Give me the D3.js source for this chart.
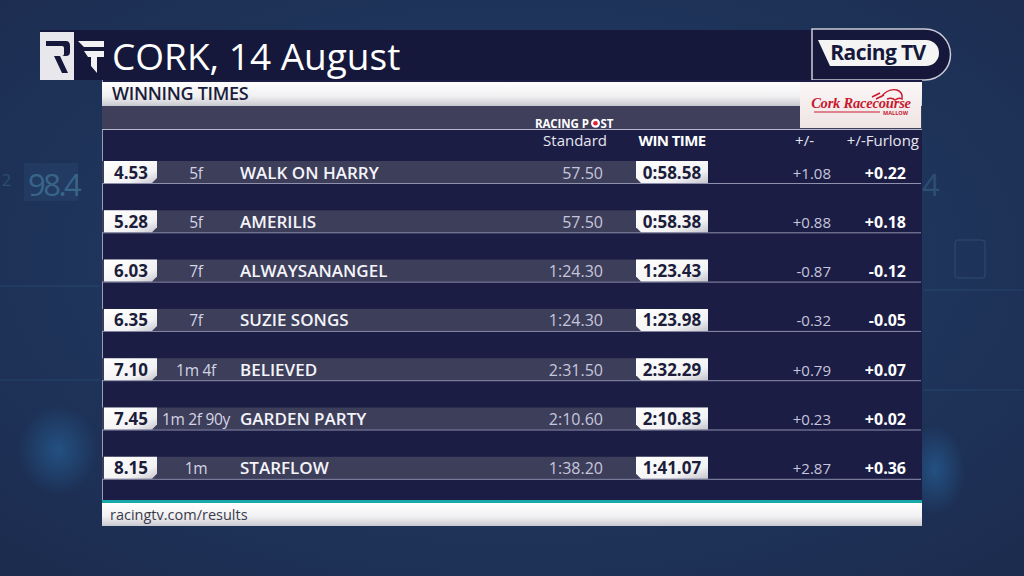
<!DOCTYPE html>
<html><head><meta charset="utf-8">
<script src="https://cdn.jsdelivr.net/npm/d3@7"></script>
<style>
html,body{margin:0;padding:0;background:#1e3156;overflow:hidden}
svg{display:block}
</style></head><body>
<script>
// ---- data ----
const offTimes   = ["4.53","5.28","6.03","6.35","7.10","7.45","8.15"];
const distances  = ["5f","5f","7f","7f","1m 4f","1m 2f 90y","1m"];
const horses     = ["WALK ON HARRY","AMERILIS","ALWAYSANANGEL","SUZIE SONGS","BELIEVED","GARDEN PARTY","STARFLOW"];
const standards  = ["57.50","57.50","1:24.30","1:24.30","2:31.50","2:10.60","1:38.20"];
const winTimes   = ["0:58.58","0:58.38","1:23.43","1:23.98","2:32.29","2:10.83","1:41.07"];
const diffs      = ["+1.08","+0.88","-0.87","-0.32","+0.79","+0.23","+2.87"];
const perFurlong = ["+0.22","+0.18","-0.12","-0.05","+0.07","+0.02","+0.36"];
const headers    = ["Standard","WIN TIME","+/-","+/-Furlong"];
const title = "CORK, 14 August";
const subtitle = "WINNING TIMES";
const footer = "racingtv.com/results";

const FONT='"Open Sans","Noto Sans",sans-serif';
const W=1024,H=576;
const svg=d3.select("body").append("svg").attr("width",W).attr("height",H).style("font-family",FONT);
const defs=svg.append("defs");

// background
const bg=defs.append("radialGradient").attr("id","bg").attr("cx","0.5").attr("cy","0.45").attr("r","0.75");
bg.append("stop").attr("offset","0").attr("stop-color","#24406a");
bg.append("stop").attr("offset","1").attr("stop-color","#1b2b4e");
svg.append("rect").attr("width",W).attr("height",H).attr("fill","url(#bg)");
const glow=defs.append("radialGradient").attr("id","glow");
glow.append("stop").attr("offset","0").attr("stop-color","#2a78b8").attr("stop-opacity",0.45);
glow.append("stop").attr("offset","1").attr("stop-color","#2a78b8").attr("stop-opacity",0);
svg.append("ellipse").attr("cx",58).attr("cy",450).attr("rx",40).attr("ry",45).attr("fill","url(#glow)");
svg.append("ellipse").attr("cx",935).attr("cy",470).attr("rx",30).attr("ry",45).attr("fill","url(#glow)");
svg.append("rect").attr("x",24).attr("y",163).attr("width",54).attr("height",38).attr("fill","#2a4a74").attr("opacity",0.35);
svg.append("text").attr("x",28).attr("y",196).attr("font-size",31).attr("fill","#4f8fb0").attr("opacity",0.5).attr("letter-spacing",-2.5).text("98.4");
svg.append("text").attr("x",2).attr("y",186).attr("font-size",16).attr("fill","#4f8fb0").attr("opacity",0.3).text("2");
svg.append("text").attr("x",922).attr("y",196).attr("font-size",31).attr("fill","#4f8fb0").attr("opacity",0.3).text("4");
[[0,286],[0,380],[923,290],[923,390]].forEach(([x,y])=>{
  svg.append("line").attr("x1",x).attr("x2",x+100).attr("y1",y).attr("y2",y).attr("stroke","#3d6a95").attr("opacity",0.3);
});
svg.append("rect").attr("x",955).attr("y",240).attr("width",30).attr("height",38).attr("rx",3).attr("fill","none").attr("stroke","#4f7fa8").attr("opacity",0.3);

// title bar
svg.append("rect").attr("x",40).attr("y",30).attr("width",800).attr("height",50).attr("fill","#16183b");
// RF logo
svg.append("rect").attr("x",40).attr("y",32).attr("width",34).attr("height",48).attr("fill","#e8e8ec");
svg.append("path").attr("d","M46 41 H66 Q70 41 70 46 V52 Q70 56 66 56 H60 L68 73 H62 L54 56 H62 Q64 56 64 54 V48 Q64 46 62 46 H46 Z").attr("fill","#16183b");
svg.append("path").attr("d","M78 41 H104 V47 H84 Z M84 51 H104 V57 H97 L97 73 L91 66 V57 H88 Z").attr("fill","#f2f2f2");
svg.append("text").attr("x",112).attr("y",70).attr("font-size",37).attr("font-weight",500).attr("fill","#ffffff").text(title);

// Racing TV pill
svg.append("path").attr("d","M812 29 H925 A25.5 25.5 0 0 1 925 80 H812 Z").attr("fill","#16183b").attr("stroke","#c9cbd8").attr("stroke-width",1.5);
svg.append("path").attr("d","M818 40 H926 A13 13 0 0 1 926 66 H830 Z").attr("fill","#f4f4f4");
svg.append("text").attr("x",878).attr("y",60).attr("text-anchor","middle").attr("font-size",21).attr("font-weight",700).attr("fill","#16183b").attr("letter-spacing",-0.6).text("Racing TV");

// panel
const P={x:102,w:820};
svg.append("rect").attr("x",P.x).attr("y",80).attr("width",P.w).attr("height",446).attr("fill","#1b1d44");
svg.append("line").attr("x1",P.x+0.5).attr("x2",P.x+0.5).attr("y1",80).attr("y2",526).attr("stroke","#9a9cb8").attr("stroke-width",1);
const wg=defs.append("linearGradient").attr("id","wg").attr("x1",0).attr("y1",0).attr("x2",0).attr("y2",1);
wg.append("stop").attr("offset","0").attr("stop-color","#ffffff");
wg.append("stop").attr("offset","0.6").attr("stop-color","#f0f0f2");
wg.append("stop").attr("offset","1").attr("stop-color","#c8c8d0");
svg.append("rect").attr("x",P.x).attr("y",82).attr("width",P.w).attr("height",24).attr("fill","url(#wg)");
svg.append("text").attr("x",112).attr("y",100).attr("font-size",18).attr("font-weight",600).attr("fill","#1b1d3a").attr("letter-spacing",-0.3).text(subtitle);
svg.append("rect").attr("x",P.x).attr("y",106).attr("width",P.w).attr("height",23).attr("fill","#3f3f5c");
svg.append("line").attr("x1",P.x).attr("x2",P.x+P.w).attr("y1",129.5).attr("y2",129.5).attr("stroke","#b8b8cc").attr("stroke-width",1.2);

// Cork logo box
const cg=defs.append("linearGradient").attr("id","cg").attr("x1",0).attr("y1",0).attr("x2",0).attr("y2",1);
cg.append("stop").attr("offset","0").attr("stop-color","#fbf6f6");
cg.append("stop").attr("offset","1").attr("stop-color","#efe4e4");
svg.append("rect").attr("x",800).attr("y",82).attr("width",121).attr("height",46).attr("fill","url(#cg)");
svg.append("text").attr("x",861).attr("y",108).attr("text-anchor","middle").style("font-family","'Liberation Serif','DejaVu Serif',serif").attr("font-style","italic").attr("font-weight",700).attr("font-size",14.5).attr("fill","#c8182e").attr("letter-spacing",-0.2).text("Cork Racecourse");
svg.append("line").attr("x1",814).attr("x2",880).attr("y1",112).attr("y2",112).attr("stroke","#c8182e").attr("stroke-width",1);
svg.append("text").attr("x",908).attr("y",115).attr("text-anchor","end").attr("font-size",5.5).attr("font-weight",700).attr("fill","#c8182e").text("MALLOW");
svg.append("path").attr("d","M872 97 L880 93 M876 99 L884 95 M881 97 Q888 88 897 90 Q903 92 902 99 Q899 97 895 100 Q892 97 887 99").attr("fill","none").attr("stroke","#c8182e").attr("stroke-width",1.4);

// Racing Post
svg.append("text").attr("x",535).attr("y",127.5).attr("font-size",11.5).attr("font-weight",700).attr("fill","#ffffff").attr("letter-spacing",-0.1).text("RACING P");
svg.append("circle").attr("cx",595.5).attr("cy",123.3).attr("r",4.5).attr("fill","#ffffff");
svg.append("circle").attr("cx",595.5).attr("cy",123.3).attr("r",2.3).attr("fill","#e0202e");
svg.append("text").attr("x",600.5).attr("y",127.5).attr("font-size",11.5).attr("font-weight",700).attr("fill","#ffffff").text("ST");

// column x positions
const col={time:131,dist:196,horse:240,std:603,win:672,diff:831,furl:906};
const hy=146;
svg.append("text").attr("x",607).attr("y",hy).attr("text-anchor","end").attr("font-size",15).attr("fill","#e6e6f0").text(headers[0]);
svg.append("text").attr("x",672).attr("y",hy).attr("text-anchor","middle").attr("font-size",15).attr("font-weight",700).attr("letter-spacing",-0.6).attr("fill","#ffffff").text(headers[1]);
svg.append("text").attr("x",814).attr("y",hy).attr("text-anchor","end").attr("font-size",15).attr("fill","#e6e6f0").text(headers[2]);
svg.append("text").attr("x",919).attr("y",hy).attr("text-anchor","end").attr("font-size",15).attr("fill","#e6e6f0").text(headers[3]);

// rows
const y=d3.scaleBand().domain(d3.range(horses.length)).range([161,161+49.3*horses.length]);
const bh=22;
const rows=svg.append("g").selectAll("g").data(horses).join("g").attr("transform",(d,i)=>`translate(0,${y(i)})`);
rows.append("rect").attr("x",P.x).attr("y",0).attr("width",708-P.x).attr("height",bh).attr("fill","#3d3e5a");
rows.append("line").attr("x1",P.x).attr("x2",P.x+P.w-1).attr("y1",bh+0.5).attr("y2",bh+0.5).attr("stroke","#8f90ad").attr("stroke-width",1);
const bx=defs.append("linearGradient").attr("id","bx").attr("x1",0).attr("y1",0).attr("x2",1).attr("y2",1);
bx.append("stop").attr("offset","0").attr("stop-color","#ffffff");
bx.append("stop").attr("offset","0.7").attr("stop-color","#f2f2f4");
bx.append("stop").attr("offset","1").attr("stop-color","#c4c4cc");
rows.append("path").attr("d",`M104 0 H157 V${bh-5} L152 ${bh} H104 Z`).attr("fill","url(#bx)");
rows.append("path").attr("d",`M636 0 H708 V${bh} H641 L636 ${bh-5} Z`).attr("fill","url(#bx)");
const ty=17.5;
rows.append("text").attr("x",col.time).attr("y",ty).attr("text-anchor","middle").attr("font-size",17).attr("font-weight",700).attr("fill","#1b1d3a").text((d,i)=>offTimes[i]);
rows.append("text").attr("x",col.dist).attr("y",ty).attr("text-anchor","middle").attr("font-size",15.5).attr("fill","#d4d4e6").attr("letter-spacing",-0.3).text((d,i)=>distances[i]);
rows.append("text").attr("x",col.horse).attr("y",ty).attr("font-size",17).attr("font-weight",600).attr("fill","#f4f4fa").text(d=>d);
rows.append("text").attr("x",col.std).attr("y",ty).attr("text-anchor","end").attr("font-size",16).attr("fill","#c6c6de").text((d,i)=>standards[i]);
rows.append("text").attr("x",col.win).attr("y",ty).attr("text-anchor","middle").attr("font-size",17).attr("font-weight",700).attr("fill","#1b1d3a").text((d,i)=>winTimes[i]);
rows.append("text").attr("x",col.diff).attr("y",ty).attr("text-anchor","end").attr("font-size",15).attr("fill","#c6c6de").text((d,i)=>diffs[i]);
rows.append("text").attr("x",col.furl).attr("y",ty).attr("text-anchor","end").attr("font-size",16).attr("font-weight",700).attr("fill","#ffffff").text((d,i)=>perFurlong[i]);

// footer
svg.append("rect").attr("x",P.x).attr("y",500).attr("width",P.w).attr("height",3).attr("fill","#1aa7a8");
svg.append("rect").attr("x",P.x).attr("y",503).attr("width",P.w).attr("height",23).attr("fill","url(#wg)");
svg.append("text").attr("x",110).attr("y",520).attr("font-size",14.5).attr("fill","#3a3a4a").text(footer);
</script>
</body></html>
